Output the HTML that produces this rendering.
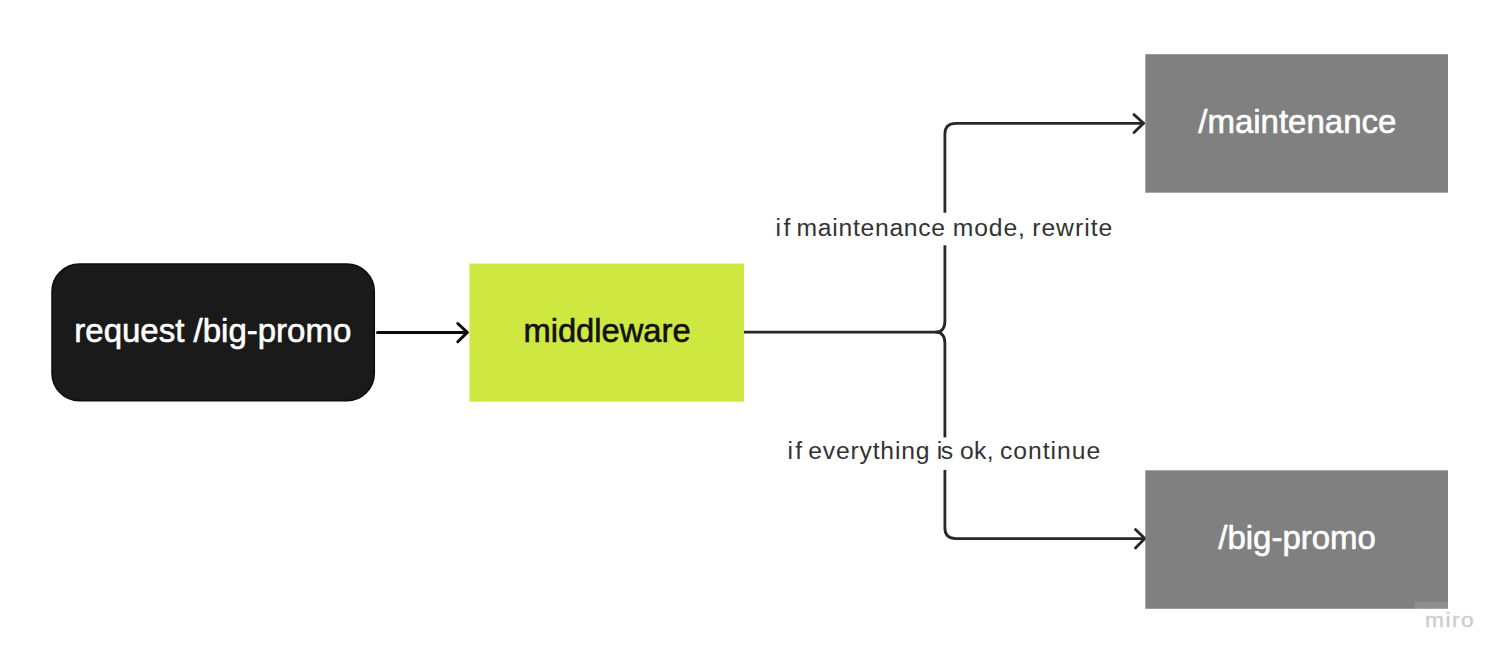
<!DOCTYPE html>
<html>
<head>
<meta charset="utf-8">
<title>middleware flow</title>
<style>
html,body{margin:0;padding:0;background:#fff;}
body{width:1508px;height:662px;overflow:hidden;font-family:"Liberation Sans",sans-serif;}
svg{display:block;}
text{font-family:"Liberation Sans",sans-serif;}
.big{font-size:33px;stroke-width:0.6px;stroke-linejoin:round;}
.lbl{font-size:24.7px;fill:#333;}
</style>
</head>
<body>
<svg width="1508" height="662" viewBox="0 0 1508 662">
  <rect x="0" y="0" width="1508" height="662" fill="#ffffff"/>

  <!-- connectors -->
  <g fill="none" stroke="#272727" stroke-width="2.8" stroke-linecap="round" stroke-linejoin="round">
    <!-- trunk -->
    <path d="M744 332.1 H936.5"/>
    <!-- upper branch -->
    <path d="M936.5 332.1 Q944.9 331.6 944.9 321 V134 Q944.9 123.3 956 123.3 H1143.5"/>
    <path d="M1134 114.6 L1143.6 123.3 L1134 132.6"/>
    <!-- lower branch -->
    <path d="M936.5 332.1 Q944.9 332.6 944.9 343.2 V528 Q944.9 538.6 956 538.6 H1144.6"/>
    <path d="M1135.5 529.5 L1144.8 538.6 L1135.5 548"/>
  </g>
  <!-- first arrow -->
  <g fill="none" stroke="#0a0a0a" stroke-width="3" stroke-linecap="round" stroke-linejoin="round">
    <path d="M377.5 332.4 H467"/>
    <path d="M457.8 323.5 L467.3 332.4 L457.8 341.8"/>
  </g>

  <!-- label backgrounds -->
  <rect x="770" y="212.7" width="350" height="32.6" fill="#fff"/>
  <rect x="780" y="437.4" width="330" height="32.5" fill="#fff"/>

  <!-- boxes -->
  <rect x="52" y="264.1" width="322.3" height="136.7" rx="27.5" ry="27.5" fill="#1a1a1a" stroke="#0c0c0c" stroke-width="1.5"/>
  <rect x="469.4" y="263.6" width="274.6" height="138.1" fill="#cee741"/>
  <rect x="1145.3" y="54.2" width="302.7" height="138.5" fill="#808080"/>
  <rect x="1145.3" y="470.3" width="302.7" height="138.5" fill="#808080"/>

  <!-- watermark -->
  <rect x="1414.7" y="601.6" width="60" height="30" fill="#ffffff" fill-opacity="0.12"/>
  <text transform="translate(1425 627.3) scale(1.16 1)" font-size="19.6" fill="#cdcdcd" stroke="#cdcdcd" stroke-width="0.4" letter-spacing="1.3">miro</text>

  <!-- box text -->
  <text class="big" x="212.8" y="341.6" text-anchor="middle" fill="#ffffff" stroke="#ffffff">request /big-promo</text>
  <text class="big" x="607.0" y="342.3" text-anchor="middle" fill="#111111" stroke="#111111" style="font-size:32.7px">middleware</text>
  <text class="big" x="1297.3" y="133.3" text-anchor="middle" fill="#ffffff" stroke="#ffffff">/maintenance</text>
  <text class="big" x="1297.1" y="548.7" text-anchor="middle" fill="#ffffff" stroke="#ffffff">/big-promo</text>

  <!-- labels -->
  <text class="lbl" x="775.4" y="235.7" letter-spacing="2.515">if</text>
  <text class="lbl" x="796.5" y="235.7" letter-spacing="0.722">maintenance</text>
  <text class="lbl" x="952.8" y="235.7" letter-spacing="0.886">mode,</text>
  <text class="lbl" x="1032.2" y="235.7" letter-spacing="0.993">rewrite</text>
  <text class="lbl" x="787.5" y="459.3" letter-spacing="2.215">if</text>
  <text class="lbl" x="808.3" y="459.3" letter-spacing="0.803">everything</text>
  <text class="lbl" x="936.7" y="459.3" letter-spacing="-1.3">is</text>
  <text class="lbl" x="960.0" y="459.3" letter-spacing="0.363">ok,</text>
  <text class="lbl" x="1000.0" y="459.3" letter-spacing="0.97">continue</text>
</svg>
</body>
</html>
